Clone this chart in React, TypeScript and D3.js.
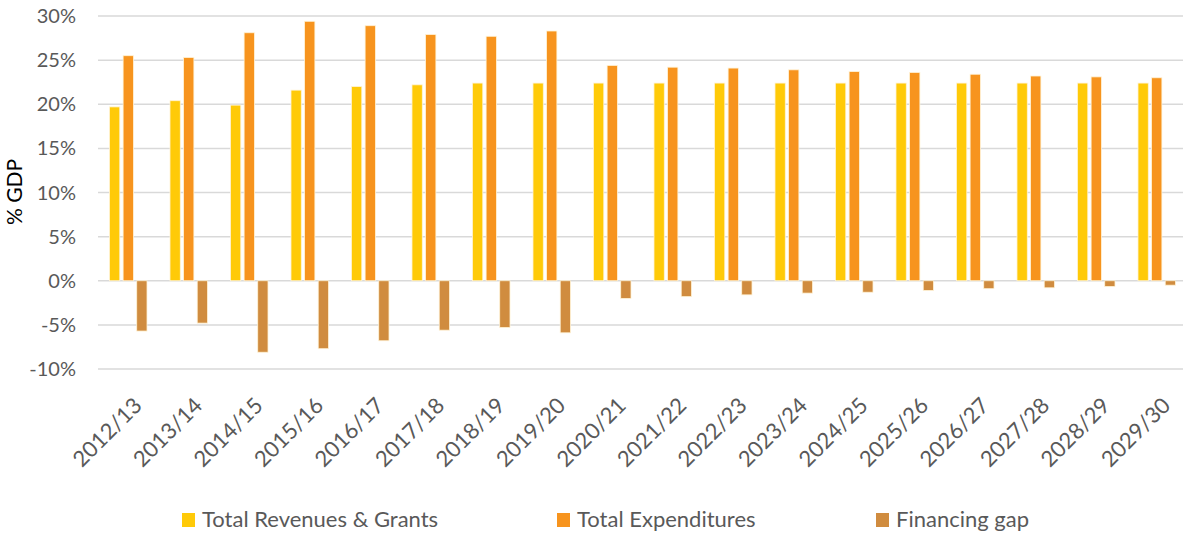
import * as d3 from "d3";

const years = [
  "2012/13", "2013/14", "2014/15", "2015/16", "2016/17", "2017/18",
  "2018/19", "2019/20", "2020/21", "2021/22", "2022/23", "2023/24",
  "2024/25", "2025/26", "2026/27", "2027/28", "2028/29", "2029/30",
];

const revenues = [
  19.7, 20.4, 19.9, 21.6, 22.0, 22.2, 22.4, 22.4, 22.4, 22.4, 22.4, 22.4,
  22.4, 22.4, 22.4, 22.4, 22.4, 22.4,
];

const expenditures = [
  25.5, 25.3, 28.1, 29.4, 28.9, 27.9, 27.7, 28.3, 24.4, 24.2, 24.1, 23.9,
  23.7, 23.6, 23.4, 23.2, 23.1, 23.0,
];

const financingGap = [
  -5.7, -4.8, -8.1, -7.7, -6.8, -5.6, -5.3, -5.9, -2.0, -1.8, -1.6, -1.4,
  -1.3, -1.1, -0.9, -0.8, -0.65, -0.5,
];

const yTicks = [-10, -5, 0, 5, 10, 15, 20, 25, 30];

const seriesNames = ["Total Revenues & Grants", "Total Expenditures", "Financing gap"];
const colors = ["#FFCA08", "#F7941E", "#D08C3F"];

const width = 1189;
const height = 533;
const marginLeft = 98;
const marginRight = 2;
const marginTop = 16;
const font = "Lato, 'Open Sans', sans-serif";

export default function App() {
  const series = [revenues, expenditures, financingGap];

  const x = d3
    .scaleBand()
    .domain(years)
    .range([marginLeft, width - marginRight]);

  const y = d3.scaleLinear().domain([-10, 30]).range([369, marginTop]);

  const barW = x.bandwidth() * 0.17;
  const step = x.bandwidth() * 0.225;

  return (
    <svg
      width={width}
      height={height}
      style={{ position: "absolute", left: 0, top: 0, background: "#fff" }}
      fontFamily={font}
    >
      {/* gridlines + y labels */}
      {yTicks.map((t) => (
        <g key={t}>
          <line
            x1={marginLeft}
            x2={width - marginRight - 4}
            y1={y(t)}
            y2={y(t)}
            stroke="#D9D9D9"
            strokeWidth={1.5}
          />
          <text
            x={76}
            y={y(t)}
            dy="0.35em"
            textAnchor="end"
            fontSize={20}
            fill="#595959"
          >
            {t}%
          </text>
        </g>
      ))}

      <text
        transform="translate(22,192) rotate(-90)"
        textAnchor="middle"
        fontSize={21}
        fill="#000"
      >
        % GDP
      </text>

      {/* bars */}
      {series.map((vals, si) =>
        vals.map((v, i) => {
          const cx = (x(years[i]) ?? 0) + x.bandwidth() / 2 + (si - 1) * step;
          const y0 = y(Math.max(0, v));
          const y1 = y(Math.min(0, v));
          return (
            <rect
              key={`${si}-${i}`}
              x={cx - barW / 2}
              y={y0}
              width={barW}
              height={y1 - y0}
              fill={colors[si]}
              stroke="#FFF3D6"
              strokeWidth={0.8}
            />
          );
        })
      )}

      {/* x labels */}
      {years.map((yr) => {
        const cx = (x(yr) ?? 0) + x.bandwidth() / 2;
        return (
          <text
            key={yr}
            transform={`translate(${cx + 15},${407}) rotate(-45)`}
            textAnchor="end"
            fontSize={22}
            fill="#595959"
          >
            {yr}
          </text>
        );
      })}

      {/* legend */}
      {seriesNames.map((name, i) => {
        const lx = [182, 557, 876][i];
        return (
          <g key={name}>
            <rect x={lx} y={513} width={13} height={14} fill={colors[i]} />
            <text x={lx + 20} y={527} fontSize={22} fill="#595959">
              {name}
            </text>
          </g>
        );
      })}
    </svg>
  );
}
